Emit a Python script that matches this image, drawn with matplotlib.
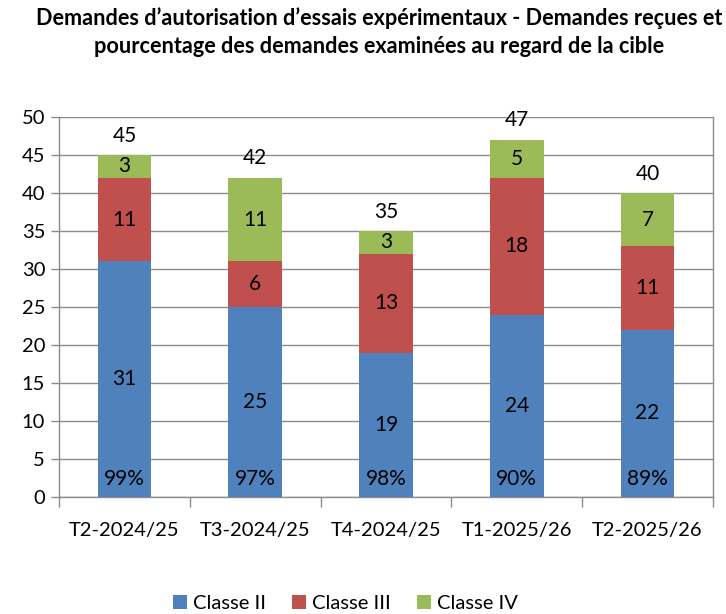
import matplotlib
matplotlib.use("Agg")
import matplotlib.pyplot as plt
import numpy as np

categories = ["T2-2024/25", "T3-2024/25", "T4-2024/25", "T1-2025/26", "T2-2025/26"]
classe_ii = [31, 25, 19, 24, 22]
classe_iii = [11, 6, 13, 18, 11]
classe_iv = [3, 11, 3, 5, 7]
pourcentages = ["99%", "97%", "98%", "90%", "89%"]
series_names = ["Classe II", "Classe III", "Classe IV"]
colors = ["#4F81BD", "#C0504D", "#9BBB59"]

plt.rcParams['font.family'] = ['Lato', 'DejaVu Sans']

fig = plt.figure(figsize=(7.26, 6.14), dpi=100)
ax = fig.add_axes([0.0813, 0.1906, 0.9007, 0.6188])

x = np.arange(len(categories))
w = 0.41
bottoms = np.zeros(len(categories))
handles = []
for vals, c, name in zip([classe_ii, classe_iii, classe_iv], colors, series_names):
    b = ax.bar(x, vals, w, bottom=bottoms, color=c, label=name, zorder=3)
    handles.append(b)
    for xi, v, bt in zip(x, vals, bottoms):
        ax.text(xi, bt + v / 2, str(v), ha='center', va='center', fontsize=15, zorder=4)
    bottoms = bottoms + np.array(vals)

for xi, t in zip(x, bottoms):
    ax.annotate(str(int(t)), (xi, t), xytext=(0, 14), textcoords='offset points',
                ha='center', va='center', fontsize=15)

for xi, p in zip(x, pourcentages):
    ax.text(xi, 2.3, p, ha='center', va='center', fontsize=15, zorder=4)

ax.set_xlim(-0.5, len(categories) - 0.5)
ax.set_ylim(0, 50)
ax.set_yticks(range(0, 51, 5))
ax.yaxis.grid(True, color='#8C8C8C', linewidth=1, zorder=0)
ax.set_axisbelow(True)
ax.set_xticks(x)
ax.set_xticklabels(categories, fontsize=14.5)
ax.set_xticks(np.arange(-0.5, len(categories), 1), minor=True)
ax.tick_params(axis='x', which='major', length=0, pad=18)
ax.tick_params(axis='x', which='minor', length=7, color='#8C8C8C', width=1)
ax.tick_params(axis='y', labelsize=14.5, length=6, color='#8C8C8C', width=1, pad=4)
for s in ['left', 'bottom', 'right', 'top']:
    ax.spines[s].set_color('#8C8C8C')
    ax.spines[s].set_linewidth(1)
ax.spines['top'].set_visible(False)

fig.suptitle("Demandes d\u2019autorisation d\u2019essais exp\u00e9rimentaux - Demandes re\u00e7ues et\n"
             "pourcentage des demandes examin\u00e9es au regard de la cible",
             x=0.522, y=0.988, fontsize=15.6, fontweight='bold', linespacing=1.4, va='top')

fig.legend(handles, series_names, loc='center', bbox_to_anchor=(0.476, 0.017), ncol=3,
           frameon=False, fontsize=14.5, handlelength=0.7, handleheight=0.7,
           handletextpad=0.3, columnspacing=1.3)

fig.savefig("out.png", dpi=100)
